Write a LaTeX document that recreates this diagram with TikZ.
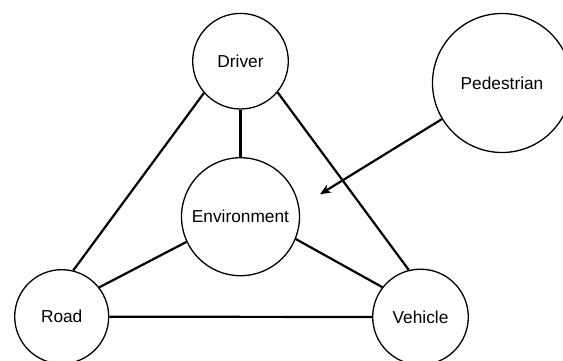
\documentclass[tikz,border=0pt]{standalone}
\usepackage{fontspec}
\setmainfont{Liberation Sans}
\usetikzlibrary{arrows.meta}
\begin{document}
\begin{tikzpicture}[x=1pt,y=-1pt,
  entity/.style={circle,draw=black,line width=1.3pt,fill=white,inner sep=0pt,
    font=\fontsize{17.3}{20}\selectfont},
  link/.style={line width=2.2pt,black},
  flow/.style={line width=2.2pt,black,-{Stealth[length=11pt,width=9pt]}}]
\useasboundingbox (0,0) rectangle (563,361);
\node[entity,minimum size=95.6pt] (driver) at (240.5,61.2) {Driver};
\node[entity,minimum size=139pt] (ped) at (502,83) {Pedestrian};
\node[entity,minimum size=118pt] (env) at (240.5,216.7) {Environment};
\node[entity,minimum size=94pt] (road) at (61.7,316.7) {Road};
\node[entity,minimum size=95.6pt] (veh) at (420.5,317) {Vehicle};
\coordinate (tip) at (320,194.3);
\draw[link] (driver.south) -- (env.north);
\draw[link] (driver.221.9) -- (road.76.4);
\draw[link] (driver.-40) -- (veh.104.9);
\draw[link] (env.205) -- (road.38.8);
\draw[link] (env.-22.4) -- (veh.142.3);
\draw[link] (road.east) -- (veh.west);
\draw[flow] (ped.211.5) -- (tip);
\end{tikzpicture}
\end{document}
